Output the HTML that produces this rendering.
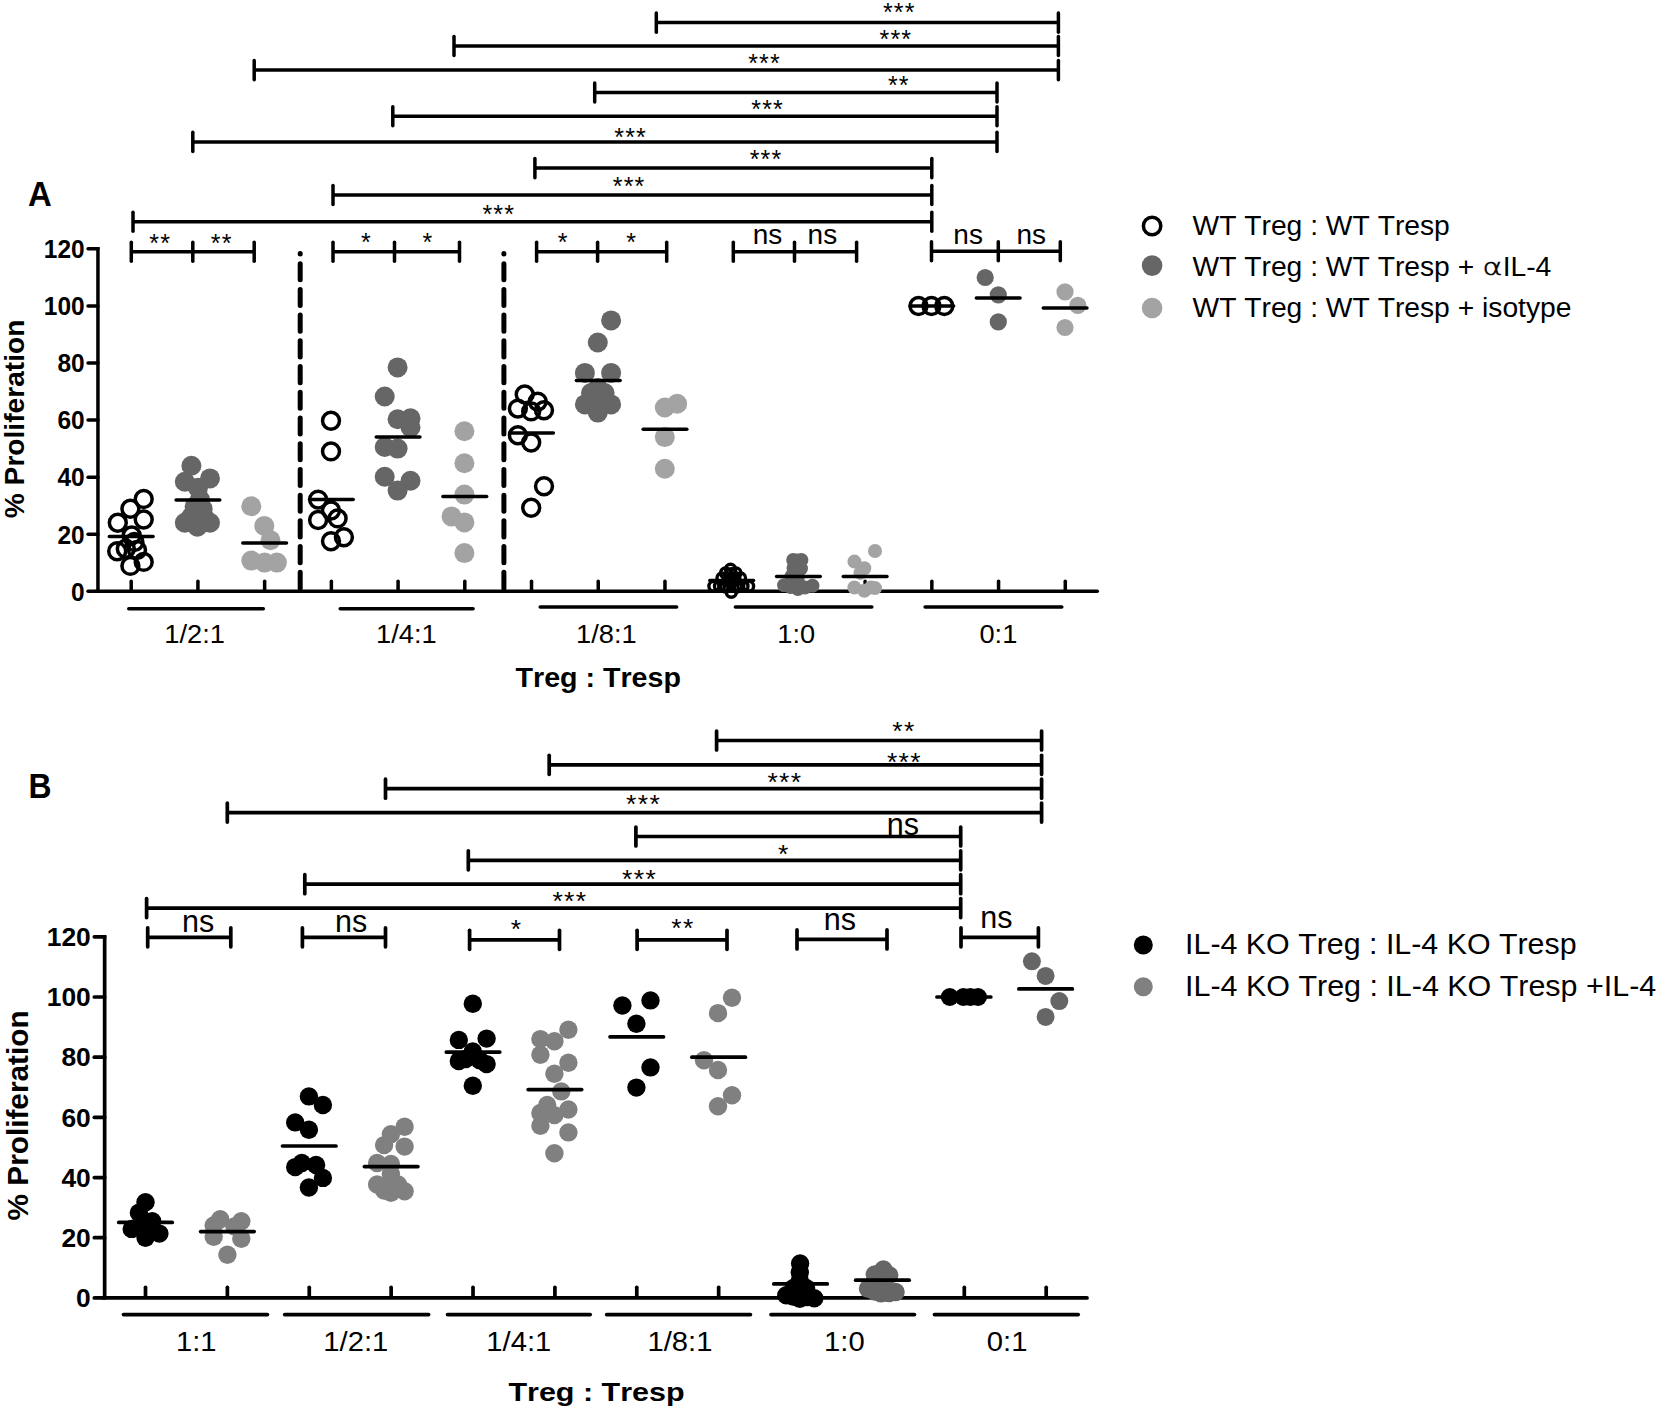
<!DOCTYPE html>
<html lang="en"><head><meta charset="utf-8"><title>Figure</title>
<style>
html,body{margin:0;padding:0;background:#fff}
body{width:1660px;height:1413px;overflow:hidden}
svg{display:block}
svg text{font-family:"Liberation Sans",sans-serif;font-kerning:none;fill:#000}
</style></head><body>
<svg width="1660" height="1413" viewBox="0 0 1660 1413">
<rect width="1660" height="1413" fill="#fff"/>
<line x1="97.95" y1="247.05" x2="97.95" y2="591.30" stroke="#000" stroke-width="3.5" stroke-linecap="butt"/>
<line x1="96.20" y1="591.30" x2="1097.30" y2="591.30" stroke="#000" stroke-width="3.5" stroke-linecap="round"/>
<line x1="88.05" y1="248.80" x2="97.95" y2="248.80" stroke="#000" stroke-width="3.5" stroke-linecap="round"/>
<line x1="88.05" y1="305.88" x2="97.95" y2="305.88" stroke="#000" stroke-width="3.5" stroke-linecap="round"/>
<line x1="88.05" y1="362.97" x2="97.95" y2="362.97" stroke="#000" stroke-width="3.5" stroke-linecap="round"/>
<line x1="88.05" y1="420.05" x2="97.95" y2="420.05" stroke="#000" stroke-width="3.5" stroke-linecap="round"/>
<line x1="88.05" y1="477.13" x2="97.95" y2="477.13" stroke="#000" stroke-width="3.5" stroke-linecap="round"/>
<line x1="88.05" y1="534.22" x2="97.95" y2="534.22" stroke="#000" stroke-width="3.5" stroke-linecap="round"/>
<line x1="88.05" y1="591.30" x2="97.95" y2="591.30" stroke="#000" stroke-width="3.5" stroke-linecap="round"/>
<line x1="131.20" y1="581.25" x2="131.20" y2="590.30" stroke="#000" stroke-width="3.5" stroke-linecap="round"/>
<line x1="197.92" y1="581.25" x2="197.92" y2="590.30" stroke="#000" stroke-width="3.5" stroke-linecap="round"/>
<line x1="264.64" y1="581.25" x2="264.64" y2="590.30" stroke="#000" stroke-width="3.5" stroke-linecap="round"/>
<line x1="331.36" y1="581.25" x2="331.36" y2="590.30" stroke="#000" stroke-width="3.5" stroke-linecap="round"/>
<line x1="398.08" y1="581.25" x2="398.08" y2="590.30" stroke="#000" stroke-width="3.5" stroke-linecap="round"/>
<line x1="464.80" y1="581.25" x2="464.80" y2="590.30" stroke="#000" stroke-width="3.5" stroke-linecap="round"/>
<line x1="531.52" y1="581.25" x2="531.52" y2="590.30" stroke="#000" stroke-width="3.5" stroke-linecap="round"/>
<line x1="598.24" y1="581.25" x2="598.24" y2="590.30" stroke="#000" stroke-width="3.5" stroke-linecap="round"/>
<line x1="664.96" y1="581.25" x2="664.96" y2="590.30" stroke="#000" stroke-width="3.5" stroke-linecap="round"/>
<line x1="731.68" y1="581.25" x2="731.68" y2="590.30" stroke="#000" stroke-width="3.5" stroke-linecap="round"/>
<line x1="798.40" y1="581.25" x2="798.40" y2="590.30" stroke="#000" stroke-width="3.5" stroke-linecap="round"/>
<line x1="865.12" y1="581.25" x2="865.12" y2="590.30" stroke="#000" stroke-width="3.5" stroke-linecap="round"/>
<line x1="931.84" y1="581.25" x2="931.84" y2="590.30" stroke="#000" stroke-width="3.5" stroke-linecap="round"/>
<line x1="998.56" y1="581.25" x2="998.56" y2="590.30" stroke="#000" stroke-width="3.5" stroke-linecap="round"/>
<line x1="1065.28" y1="581.25" x2="1065.28" y2="590.30" stroke="#000" stroke-width="3.5" stroke-linecap="round"/>
<line x1="128.75" y1="608.70" x2="263.30" y2="608.70" stroke="#000" stroke-width="3.5" stroke-linecap="round"/>
<line x1="340.20" y1="608.70" x2="473.10" y2="608.70" stroke="#000" stroke-width="3.5" stroke-linecap="round"/>
<line x1="540.20" y1="606.90" x2="676.60" y2="606.90" stroke="#000" stroke-width="3.5" stroke-linecap="round"/>
<line x1="735.40" y1="606.90" x2="871.80" y2="606.90" stroke="#000" stroke-width="3.5" stroke-linecap="round"/>
<line x1="925.10" y1="606.90" x2="1061.80" y2="606.90" stroke="#000" stroke-width="3.5" stroke-linecap="round"/>
<line x1="300.2" y1="588.4" x2="300.2" y2="253.4" stroke="#000" stroke-width="5" stroke-linecap="round" stroke-dasharray="16.1 9.62"/>
<line x1="503.9" y1="588.4" x2="503.9" y2="253.4" stroke="#000" stroke-width="5" stroke-linecap="round" stroke-dasharray="16.1 9.62"/>
<line x1="656.30" y1="22.60" x2="1058.40" y2="22.60" stroke="#000" stroke-width="3.5" stroke-linecap="butt"/>
<line x1="656.30" y1="13.05" x2="656.30" y2="32.15" stroke="#000" stroke-width="3.5" stroke-linecap="round"/>
<line x1="1058.40" y1="13.05" x2="1058.40" y2="32.15" stroke="#000" stroke-width="3.5" stroke-linecap="round"/>
<line x1="454.00" y1="46.00" x2="1058.40" y2="46.00" stroke="#000" stroke-width="3.5" stroke-linecap="butt"/>
<line x1="454.00" y1="36.45" x2="454.00" y2="55.55" stroke="#000" stroke-width="3.5" stroke-linecap="round"/>
<line x1="1058.40" y1="36.45" x2="1058.40" y2="55.55" stroke="#000" stroke-width="3.5" stroke-linecap="round"/>
<line x1="254.20" y1="70.10" x2="1058.40" y2="70.10" stroke="#000" stroke-width="3.5" stroke-linecap="butt"/>
<line x1="254.20" y1="60.55" x2="254.20" y2="79.65" stroke="#000" stroke-width="3.5" stroke-linecap="round"/>
<line x1="1058.40" y1="60.55" x2="1058.40" y2="79.65" stroke="#000" stroke-width="3.5" stroke-linecap="round"/>
<line x1="594.70" y1="92.50" x2="997.00" y2="92.50" stroke="#000" stroke-width="3.5" stroke-linecap="butt"/>
<line x1="594.70" y1="82.95" x2="594.70" y2="102.05" stroke="#000" stroke-width="3.5" stroke-linecap="round"/>
<line x1="997.00" y1="82.95" x2="997.00" y2="102.05" stroke="#000" stroke-width="3.5" stroke-linecap="round"/>
<line x1="392.80" y1="116.30" x2="997.00" y2="116.30" stroke="#000" stroke-width="3.5" stroke-linecap="butt"/>
<line x1="392.80" y1="106.75" x2="392.80" y2="125.85" stroke="#000" stroke-width="3.5" stroke-linecap="round"/>
<line x1="997.00" y1="106.75" x2="997.00" y2="125.85" stroke="#000" stroke-width="3.5" stroke-linecap="round"/>
<line x1="192.80" y1="141.90" x2="997.00" y2="141.90" stroke="#000" stroke-width="3.5" stroke-linecap="butt"/>
<line x1="192.80" y1="132.35" x2="192.80" y2="151.45" stroke="#000" stroke-width="3.5" stroke-linecap="round"/>
<line x1="997.00" y1="132.35" x2="997.00" y2="151.45" stroke="#000" stroke-width="3.5" stroke-linecap="round"/>
<line x1="534.90" y1="168.10" x2="931.80" y2="168.10" stroke="#000" stroke-width="3.5" stroke-linecap="butt"/>
<line x1="534.90" y1="158.55" x2="534.90" y2="177.65" stroke="#000" stroke-width="3.5" stroke-linecap="round"/>
<line x1="931.80" y1="158.55" x2="931.80" y2="177.65" stroke="#000" stroke-width="3.5" stroke-linecap="round"/>
<line x1="333.00" y1="195.00" x2="931.80" y2="195.00" stroke="#000" stroke-width="3.5" stroke-linecap="butt"/>
<line x1="333.00" y1="185.45" x2="333.00" y2="204.55" stroke="#000" stroke-width="3.5" stroke-linecap="round"/>
<line x1="931.80" y1="185.45" x2="931.80" y2="204.55" stroke="#000" stroke-width="3.5" stroke-linecap="round"/>
<line x1="133.00" y1="221.80" x2="931.80" y2="221.80" stroke="#000" stroke-width="3.5" stroke-linecap="butt"/>
<line x1="133.00" y1="212.25" x2="133.00" y2="231.35" stroke="#000" stroke-width="3.5" stroke-linecap="round"/>
<line x1="931.80" y1="212.25" x2="931.80" y2="231.35" stroke="#000" stroke-width="3.5" stroke-linecap="round"/>
<line x1="131.30" y1="251.80" x2="254.20" y2="251.80" stroke="#000" stroke-width="3.5" stroke-linecap="butt"/>
<line x1="131.30" y1="242.25" x2="131.30" y2="261.35" stroke="#000" stroke-width="3.5" stroke-linecap="round"/>
<line x1="192.80" y1="242.25" x2="192.80" y2="261.35" stroke="#000" stroke-width="3.5" stroke-linecap="round"/>
<line x1="254.20" y1="242.25" x2="254.20" y2="261.35" stroke="#000" stroke-width="3.5" stroke-linecap="round"/>
<line x1="333.00" y1="251.80" x2="459.50" y2="251.80" stroke="#000" stroke-width="3.5" stroke-linecap="butt"/>
<line x1="333.00" y1="242.25" x2="333.00" y2="261.35" stroke="#000" stroke-width="3.5" stroke-linecap="round"/>
<line x1="394.50" y1="242.25" x2="394.50" y2="261.35" stroke="#000" stroke-width="3.5" stroke-linecap="round"/>
<line x1="459.50" y1="242.25" x2="459.50" y2="261.35" stroke="#000" stroke-width="3.5" stroke-linecap="round"/>
<line x1="536.60" y1="251.80" x2="666.70" y2="251.80" stroke="#000" stroke-width="3.5" stroke-linecap="butt"/>
<line x1="536.60" y1="242.25" x2="536.60" y2="261.35" stroke="#000" stroke-width="3.5" stroke-linecap="round"/>
<line x1="597.60" y1="242.25" x2="597.60" y2="261.35" stroke="#000" stroke-width="3.5" stroke-linecap="round"/>
<line x1="666.70" y1="242.25" x2="666.70" y2="261.35" stroke="#000" stroke-width="3.5" stroke-linecap="round"/>
<line x1="733.30" y1="251.80" x2="856.60" y2="251.80" stroke="#000" stroke-width="3.5" stroke-linecap="butt"/>
<line x1="733.30" y1="242.25" x2="733.30" y2="261.35" stroke="#000" stroke-width="3.5" stroke-linecap="round"/>
<line x1="794.50" y1="242.25" x2="794.50" y2="261.35" stroke="#000" stroke-width="3.5" stroke-linecap="round"/>
<line x1="856.60" y1="242.25" x2="856.60" y2="261.35" stroke="#000" stroke-width="3.5" stroke-linecap="round"/>
<line x1="931.50" y1="251.20" x2="1060.30" y2="251.20" stroke="#000" stroke-width="3.5" stroke-linecap="butt"/>
<line x1="931.50" y1="241.65" x2="931.50" y2="260.75" stroke="#000" stroke-width="3.5" stroke-linecap="round"/>
<line x1="998.30" y1="241.65" x2="998.30" y2="260.75" stroke="#000" stroke-width="3.5" stroke-linecap="round"/>
<line x1="1060.30" y1="241.65" x2="1060.30" y2="260.75" stroke="#000" stroke-width="3.5" stroke-linecap="round"/>
<circle cx="143.7" cy="499.0" r="8.45" fill="none" stroke="#000" stroke-width="3.5"/>
<circle cx="130.4" cy="508.7" r="8.45" fill="none" stroke="#000" stroke-width="3.5"/>
<circle cx="143.7" cy="519.5" r="8.45" fill="none" stroke="#000" stroke-width="3.5"/>
<circle cx="117.8" cy="522.8" r="8.45" fill="none" stroke="#000" stroke-width="3.5"/>
<circle cx="131.7" cy="535.4" r="8.45" fill="none" stroke="#000" stroke-width="3.5"/>
<circle cx="134.4" cy="542.0" r="8.45" fill="none" stroke="#000" stroke-width="3.5"/>
<circle cx="137.0" cy="550.0" r="8.45" fill="none" stroke="#000" stroke-width="3.5"/>
<circle cx="117.2" cy="551.3" r="8.45" fill="none" stroke="#000" stroke-width="3.5"/>
<circle cx="125.8" cy="548.7" r="8.45" fill="none" stroke="#000" stroke-width="3.5"/>
<circle cx="143.7" cy="561.9" r="8.45" fill="none" stroke="#000" stroke-width="3.5"/>
<circle cx="130.4" cy="565.9" r="8.45" fill="none" stroke="#000" stroke-width="3.5"/>
<line x1="109.35" y1="536.40" x2="153.05" y2="536.40" stroke="#000" stroke-width="3.5" stroke-linecap="round"/>
<circle cx="191.4" cy="465.8" r="10" fill="#666666"/>
<circle cx="210.0" cy="478.4" r="10" fill="#666666"/>
<circle cx="184.8" cy="481.7" r="10" fill="#666666"/>
<circle cx="198.0" cy="487.7" r="10" fill="#666666"/>
<circle cx="200.0" cy="499.6" r="10" fill="#666666"/>
<circle cx="194.7" cy="506.3" r="10" fill="#666666"/>
<circle cx="202.7" cy="508.9" r="10" fill="#666666"/>
<circle cx="184.8" cy="522.8" r="10" fill="#666666"/>
<circle cx="210.0" cy="522.8" r="10" fill="#666666"/>
<circle cx="197.4" cy="526.8" r="10" fill="#666666"/>
<circle cx="191.0" cy="517.0" r="10" fill="#666666"/>
<circle cx="204.0" cy="517.0" r="10" fill="#666666"/>
<line x1="176.07" y1="499.90" x2="219.77" y2="499.90" stroke="#000" stroke-width="3.5" stroke-linecap="round"/>
<circle cx="251.3" cy="506.3" r="10" fill="#a3a3a3"/>
<circle cx="264.3" cy="525.9" r="10" fill="#a3a3a3"/>
<circle cx="270.5" cy="540.3" r="10" fill="#a3a3a3"/>
<circle cx="251.3" cy="560.6" r="10" fill="#a3a3a3"/>
<circle cx="264.6" cy="562.6" r="10" fill="#a3a3a3"/>
<circle cx="276.9" cy="562.6" r="10" fill="#a3a3a3"/>
<line x1="242.79" y1="543.10" x2="286.49" y2="543.10" stroke="#000" stroke-width="3.5" stroke-linecap="round"/>
<circle cx="331.0" cy="420.7" r="8.45" fill="none" stroke="#000" stroke-width="3.5"/>
<circle cx="331.0" cy="451.4" r="8.45" fill="none" stroke="#000" stroke-width="3.5"/>
<circle cx="318.1" cy="499.6" r="8.45" fill="none" stroke="#000" stroke-width="3.5"/>
<circle cx="331.0" cy="510.5" r="8.45" fill="none" stroke="#000" stroke-width="3.5"/>
<circle cx="337.6" cy="518.4" r="8.45" fill="none" stroke="#000" stroke-width="3.5"/>
<circle cx="318.1" cy="520.0" r="8.45" fill="none" stroke="#000" stroke-width="3.5"/>
<circle cx="343.9" cy="537.2" r="8.45" fill="none" stroke="#000" stroke-width="3.5"/>
<circle cx="331.0" cy="541.2" r="8.45" fill="none" stroke="#000" stroke-width="3.5"/>
<line x1="309.51" y1="499.60" x2="353.21" y2="499.60" stroke="#000" stroke-width="3.5" stroke-linecap="round"/>
<circle cx="397.6" cy="367.4" r="10" fill="#666666"/>
<circle cx="384.7" cy="396.5" r="10" fill="#666666"/>
<circle cx="397.6" cy="419.3" r="10" fill="#666666"/>
<circle cx="410.5" cy="418.3" r="10" fill="#666666"/>
<circle cx="410.5" cy="427.2" r="10" fill="#666666"/>
<circle cx="384.7" cy="447.0" r="10" fill="#666666"/>
<circle cx="397.6" cy="448.6" r="10" fill="#666666"/>
<circle cx="384.7" cy="476.8" r="10" fill="#666666"/>
<circle cx="410.5" cy="480.7" r="10" fill="#666666"/>
<circle cx="397.6" cy="490.6" r="10" fill="#666666"/>
<line x1="376.23" y1="437.10" x2="419.93" y2="437.10" stroke="#000" stroke-width="3.5" stroke-linecap="round"/>
<circle cx="464.4" cy="431.2" r="10" fill="#a3a3a3"/>
<circle cx="464.4" cy="463.3" r="10" fill="#a3a3a3"/>
<circle cx="464.4" cy="494.6" r="10" fill="#a3a3a3"/>
<circle cx="451.5" cy="516.4" r="10" fill="#a3a3a3"/>
<circle cx="464.4" cy="522.4" r="10" fill="#a3a3a3"/>
<circle cx="464.4" cy="553.1" r="10" fill="#a3a3a3"/>
<line x1="442.95" y1="496.60" x2="486.65" y2="496.60" stroke="#000" stroke-width="3.5" stroke-linecap="round"/>
<circle cx="524.7" cy="394.4" r="8.45" fill="none" stroke="#000" stroke-width="3.5"/>
<circle cx="537.7" cy="401.6" r="8.45" fill="none" stroke="#000" stroke-width="3.5"/>
<circle cx="517.9" cy="408.6" r="8.45" fill="none" stroke="#000" stroke-width="3.5"/>
<circle cx="531.2" cy="411.4" r="8.45" fill="none" stroke="#000" stroke-width="3.5"/>
<circle cx="544.0" cy="410.3" r="8.45" fill="none" stroke="#000" stroke-width="3.5"/>
<circle cx="517.9" cy="435.3" r="8.45" fill="none" stroke="#000" stroke-width="3.5"/>
<circle cx="531.2" cy="442.5" r="8.45" fill="none" stroke="#000" stroke-width="3.5"/>
<circle cx="544.0" cy="486.2" r="8.45" fill="none" stroke="#000" stroke-width="3.5"/>
<circle cx="531.2" cy="507.7" r="8.45" fill="none" stroke="#000" stroke-width="3.5"/>
<line x1="509.67" y1="432.90" x2="553.37" y2="432.90" stroke="#000" stroke-width="3.5" stroke-linecap="round"/>
<circle cx="611.1" cy="320.4" r="10" fill="#666666"/>
<circle cx="597.8" cy="342.5" r="10" fill="#666666"/>
<circle cx="584.9" cy="372.9" r="10" fill="#666666"/>
<circle cx="611.1" cy="372.9" r="10" fill="#666666"/>
<circle cx="597.8" cy="388.1" r="10" fill="#666666"/>
<circle cx="591.0" cy="393.0" r="10" fill="#666666"/>
<circle cx="604.6" cy="393.0" r="10" fill="#666666"/>
<circle cx="597.8" cy="400.0" r="10" fill="#666666"/>
<circle cx="584.9" cy="404.4" r="10" fill="#666666"/>
<circle cx="611.1" cy="404.4" r="10" fill="#666666"/>
<circle cx="597.8" cy="412.6" r="10" fill="#666666"/>
<line x1="576.39" y1="380.60" x2="620.09" y2="380.60" stroke="#000" stroke-width="3.5" stroke-linecap="round"/>
<circle cx="677.2" cy="403.7" r="10" fill="#a3a3a3"/>
<circle cx="664.8" cy="407.5" r="10" fill="#a3a3a3"/>
<circle cx="664.8" cy="437.1" r="10" fill="#a3a3a3"/>
<circle cx="664.8" cy="468.7" r="10" fill="#a3a3a3"/>
<line x1="643.11" y1="429.20" x2="686.81" y2="429.20" stroke="#000" stroke-width="3.5" stroke-linecap="round"/>
<circle cx="713.9" cy="586.3" r="5.0" fill="none" stroke="#000" stroke-width="3.4"/>
<circle cx="719.5" cy="586.3" r="5.0" fill="none" stroke="#000" stroke-width="3.4"/>
<circle cx="725.8" cy="587.0" r="5.0" fill="none" stroke="#000" stroke-width="3.4"/>
<circle cx="731.3" cy="592.3" r="5.0" fill="none" stroke="#000" stroke-width="3.4"/>
<circle cx="736.8" cy="587.0" r="5.0" fill="none" stroke="#000" stroke-width="3.4"/>
<circle cx="743.0" cy="586.3" r="5.0" fill="none" stroke="#000" stroke-width="3.4"/>
<circle cx="748.6" cy="586.3" r="5.0" fill="none" stroke="#000" stroke-width="3.4"/>
<circle cx="730.5" cy="569.3" r="5.0" fill="none" stroke="#000" stroke-width="3.4"/>
<circle cx="725.5" cy="573.0" r="5.0" fill="none" stroke="#000" stroke-width="3.4"/>
<circle cx="736.0" cy="573.0" r="5.0" fill="none" stroke="#000" stroke-width="3.4"/>
<circle cx="731.3" cy="573.6" r="5.0" fill="none" stroke="#000" stroke-width="3.4"/>
<circle cx="722.0" cy="578.0" r="5.0" fill="none" stroke="#000" stroke-width="3.4"/>
<circle cx="740.5" cy="578.0" r="5.0" fill="none" stroke="#000" stroke-width="3.4"/>
<circle cx="728.0" cy="579.0" r="5.0" fill="none" stroke="#000" stroke-width="3.4"/>
<circle cx="735.0" cy="579.0" r="5.0" fill="none" stroke="#000" stroke-width="3.4"/>
<circle cx="731.3" cy="583.0" r="5.0" fill="none" stroke="#000" stroke-width="3.4"/>
<line x1="709.83" y1="580.50" x2="753.53" y2="580.50" stroke="#000" stroke-width="3.5" stroke-linecap="round"/>
<circle cx="793.2" cy="559.9" r="7" fill="#666666"/>
<circle cx="801.4" cy="559.9" r="7" fill="#666666"/>
<circle cx="797.3" cy="560.6" r="7" fill="#666666"/>
<circle cx="801.0" cy="568.5" r="7" fill="#666666"/>
<circle cx="793.5" cy="568.0" r="7" fill="#666666"/>
<circle cx="791.6" cy="576.3" r="7" fill="#666666"/>
<circle cx="797.0" cy="572.0" r="7" fill="#666666"/>
<circle cx="784.1" cy="585.3" r="7" fill="#666666"/>
<circle cx="790.5" cy="587.0" r="7" fill="#666666"/>
<circle cx="797.9" cy="589.0" r="7" fill="#666666"/>
<circle cx="805.0" cy="587.6" r="7" fill="#666666"/>
<circle cx="812.5" cy="585.8" r="7" fill="#666666"/>
<circle cx="797.7" cy="580.0" r="7" fill="#666666"/>
<line x1="776.55" y1="576.50" x2="820.25" y2="576.50" stroke="#000" stroke-width="3.5" stroke-linecap="round"/>
<circle cx="875.0" cy="551.0" r="7" fill="#a3a3a3"/>
<circle cx="854.4" cy="561.6" r="7" fill="#a3a3a3"/>
<circle cx="864.3" cy="568.3" r="7" fill="#a3a3a3"/>
<circle cx="860.4" cy="572.9" r="7" fill="#a3a3a3"/>
<circle cx="854.4" cy="587.5" r="7" fill="#a3a3a3"/>
<circle cx="864.3" cy="590.8" r="7" fill="#a3a3a3"/>
<circle cx="871.0" cy="587.5" r="7" fill="#a3a3a3"/>
<circle cx="875.0" cy="588.1" r="7" fill="#a3a3a3"/>
<line x1="843.27" y1="576.50" x2="886.97" y2="576.50" stroke="#000" stroke-width="3.5" stroke-linecap="round"/>
<circle cx="918.5" cy="306.0" r="8.45" fill="none" stroke="#000" stroke-width="3.5"/>
<circle cx="931.5" cy="306.0" r="8.45" fill="none" stroke="#000" stroke-width="3.5"/>
<circle cx="944.3" cy="306.0" r="8.45" fill="none" stroke="#000" stroke-width="3.5"/>
<line x1="909.95" y1="306.00" x2="953.65" y2="306.00" stroke="#000" stroke-width="3.5" stroke-linecap="round"/>
<circle cx="985.2" cy="277.5" r="8.6" fill="#666666"/>
<circle cx="998.3" cy="294.8" r="8.6" fill="#666666"/>
<circle cx="998.3" cy="321.9" r="8.6" fill="#666666"/>
<line x1="976.35" y1="298.10" x2="1020.05" y2="298.10" stroke="#000" stroke-width="3.5" stroke-linecap="round"/>
<circle cx="1065.0" cy="291.8" r="8.6" fill="#a3a3a3"/>
<circle cx="1077.8" cy="305.4" r="8.6" fill="#a3a3a3"/>
<circle cx="1065.0" cy="327.5" r="8.6" fill="#a3a3a3"/>
<line x1="1043.25" y1="308.00" x2="1086.95" y2="308.00" stroke="#000" stroke-width="3.5" stroke-linecap="round"/>
<circle cx="1152.1" cy="226.0" r="8.7" fill="none" stroke="#000" stroke-width="3.5"/>
<circle cx="1152.1" cy="265.6" r="10.3" fill="#666666"/>
<circle cx="1152.1" cy="308.0" r="10.3" fill="#a3a3a3"/>
<line x1="104.65" y1="934.95" x2="104.65" y2="1297.90" stroke="#000" stroke-width="3.7" stroke-linecap="butt"/>
<line x1="102.80" y1="1297.90" x2="1087.00" y2="1297.90" stroke="#000" stroke-width="3.7" stroke-linecap="round"/>
<line x1="94.30" y1="936.80" x2="104.65" y2="936.80" stroke="#000" stroke-width="3.7" stroke-linecap="round"/>
<line x1="94.30" y1="996.98" x2="104.65" y2="996.98" stroke="#000" stroke-width="3.7" stroke-linecap="round"/>
<line x1="94.30" y1="1057.17" x2="104.65" y2="1057.17" stroke="#000" stroke-width="3.7" stroke-linecap="round"/>
<line x1="94.30" y1="1117.35" x2="104.65" y2="1117.35" stroke="#000" stroke-width="3.7" stroke-linecap="round"/>
<line x1="94.30" y1="1177.53" x2="104.65" y2="1177.53" stroke="#000" stroke-width="3.7" stroke-linecap="round"/>
<line x1="94.30" y1="1237.72" x2="104.65" y2="1237.72" stroke="#000" stroke-width="3.7" stroke-linecap="round"/>
<line x1="94.30" y1="1297.90" x2="104.65" y2="1297.90" stroke="#000" stroke-width="3.7" stroke-linecap="round"/>
<line x1="145.50" y1="1287.30" x2="145.50" y2="1296.90" stroke="#000" stroke-width="3.7" stroke-linecap="round"/>
<line x1="227.38" y1="1287.30" x2="227.38" y2="1296.90" stroke="#000" stroke-width="3.7" stroke-linecap="round"/>
<line x1="309.26" y1="1287.30" x2="309.26" y2="1296.90" stroke="#000" stroke-width="3.7" stroke-linecap="round"/>
<line x1="391.14" y1="1287.30" x2="391.14" y2="1296.90" stroke="#000" stroke-width="3.7" stroke-linecap="round"/>
<line x1="473.02" y1="1287.30" x2="473.02" y2="1296.90" stroke="#000" stroke-width="3.7" stroke-linecap="round"/>
<line x1="554.90" y1="1287.30" x2="554.90" y2="1296.90" stroke="#000" stroke-width="3.7" stroke-linecap="round"/>
<line x1="636.78" y1="1287.30" x2="636.78" y2="1296.90" stroke="#000" stroke-width="3.7" stroke-linecap="round"/>
<line x1="718.66" y1="1287.30" x2="718.66" y2="1296.90" stroke="#000" stroke-width="3.7" stroke-linecap="round"/>
<line x1="800.54" y1="1287.30" x2="800.54" y2="1296.90" stroke="#000" stroke-width="3.7" stroke-linecap="round"/>
<line x1="882.42" y1="1287.30" x2="882.42" y2="1296.90" stroke="#000" stroke-width="3.7" stroke-linecap="round"/>
<line x1="964.30" y1="1287.30" x2="964.30" y2="1296.90" stroke="#000" stroke-width="3.7" stroke-linecap="round"/>
<line x1="1046.18" y1="1287.30" x2="1046.18" y2="1296.90" stroke="#000" stroke-width="3.7" stroke-linecap="round"/>
<line x1="123.50" y1="1314.60" x2="267.40" y2="1314.60" stroke="#000" stroke-width="3.7" stroke-linecap="round"/>
<line x1="284.70" y1="1314.60" x2="428.60" y2="1314.60" stroke="#000" stroke-width="3.7" stroke-linecap="round"/>
<line x1="447.60" y1="1314.60" x2="590.20" y2="1314.60" stroke="#000" stroke-width="3.7" stroke-linecap="round"/>
<line x1="606.70" y1="1314.60" x2="750.40" y2="1314.60" stroke="#000" stroke-width="3.7" stroke-linecap="round"/>
<line x1="771.00" y1="1314.60" x2="914.40" y2="1314.60" stroke="#000" stroke-width="3.7" stroke-linecap="round"/>
<line x1="934.50" y1="1314.60" x2="1078.20" y2="1314.60" stroke="#000" stroke-width="3.7" stroke-linecap="round"/>
<line x1="716.60" y1="740.50" x2="1041.60" y2="740.50" stroke="#000" stroke-width="3.7" stroke-linecap="butt"/>
<line x1="716.60" y1="731.00" x2="716.60" y2="750.00" stroke="#000" stroke-width="3.7" stroke-linecap="round"/>
<line x1="1041.60" y1="731.00" x2="1041.60" y2="750.00" stroke="#000" stroke-width="3.7" stroke-linecap="round"/>
<line x1="549.20" y1="764.80" x2="1041.60" y2="764.80" stroke="#000" stroke-width="3.7" stroke-linecap="butt"/>
<line x1="549.20" y1="755.30" x2="549.20" y2="774.30" stroke="#000" stroke-width="3.7" stroke-linecap="round"/>
<line x1="1041.60" y1="755.30" x2="1041.60" y2="774.30" stroke="#000" stroke-width="3.7" stroke-linecap="round"/>
<line x1="385.50" y1="788.70" x2="1041.60" y2="788.70" stroke="#000" stroke-width="3.7" stroke-linecap="butt"/>
<line x1="385.50" y1="779.20" x2="385.50" y2="798.20" stroke="#000" stroke-width="3.7" stroke-linecap="round"/>
<line x1="1041.60" y1="779.20" x2="1041.60" y2="798.20" stroke="#000" stroke-width="3.7" stroke-linecap="round"/>
<line x1="227.30" y1="812.60" x2="1041.60" y2="812.60" stroke="#000" stroke-width="3.7" stroke-linecap="butt"/>
<line x1="227.30" y1="803.10" x2="227.30" y2="822.10" stroke="#000" stroke-width="3.7" stroke-linecap="round"/>
<line x1="1041.60" y1="803.10" x2="1041.60" y2="822.10" stroke="#000" stroke-width="3.7" stroke-linecap="round"/>
<line x1="635.90" y1="836.50" x2="960.70" y2="836.50" stroke="#000" stroke-width="3.7" stroke-linecap="butt"/>
<line x1="635.90" y1="827.00" x2="635.90" y2="846.00" stroke="#000" stroke-width="3.7" stroke-linecap="round"/>
<line x1="960.70" y1="827.00" x2="960.70" y2="846.00" stroke="#000" stroke-width="3.7" stroke-linecap="round"/>
<line x1="468.30" y1="860.30" x2="960.70" y2="860.30" stroke="#000" stroke-width="3.7" stroke-linecap="butt"/>
<line x1="468.30" y1="850.80" x2="468.30" y2="869.80" stroke="#000" stroke-width="3.7" stroke-linecap="round"/>
<line x1="960.70" y1="850.80" x2="960.70" y2="869.80" stroke="#000" stroke-width="3.7" stroke-linecap="round"/>
<line x1="304.80" y1="884.20" x2="960.70" y2="884.20" stroke="#000" stroke-width="3.7" stroke-linecap="butt"/>
<line x1="304.80" y1="874.70" x2="304.80" y2="893.70" stroke="#000" stroke-width="3.7" stroke-linecap="round"/>
<line x1="960.70" y1="874.70" x2="960.70" y2="893.70" stroke="#000" stroke-width="3.7" stroke-linecap="round"/>
<line x1="146.60" y1="908.10" x2="960.70" y2="908.10" stroke="#000" stroke-width="3.7" stroke-linecap="butt"/>
<line x1="146.60" y1="898.60" x2="146.60" y2="917.60" stroke="#000" stroke-width="3.7" stroke-linecap="round"/>
<line x1="960.70" y1="898.60" x2="960.70" y2="917.60" stroke="#000" stroke-width="3.7" stroke-linecap="round"/>
<line x1="147.70" y1="937.30" x2="230.80" y2="937.30" stroke="#000" stroke-width="3.7" stroke-linecap="butt"/>
<line x1="147.70" y1="927.80" x2="147.70" y2="946.80" stroke="#000" stroke-width="3.7" stroke-linecap="round"/>
<line x1="230.80" y1="927.80" x2="230.80" y2="946.80" stroke="#000" stroke-width="3.7" stroke-linecap="round"/>
<line x1="302.40" y1="937.30" x2="385.50" y2="937.30" stroke="#000" stroke-width="3.7" stroke-linecap="butt"/>
<line x1="302.40" y1="927.80" x2="302.40" y2="946.80" stroke="#000" stroke-width="3.7" stroke-linecap="round"/>
<line x1="385.50" y1="927.80" x2="385.50" y2="946.80" stroke="#000" stroke-width="3.7" stroke-linecap="round"/>
<line x1="469.60" y1="939.80" x2="559.50" y2="939.80" stroke="#000" stroke-width="3.7" stroke-linecap="butt"/>
<line x1="469.60" y1="930.30" x2="469.60" y2="949.30" stroke="#000" stroke-width="3.7" stroke-linecap="round"/>
<line x1="559.50" y1="930.30" x2="559.50" y2="949.30" stroke="#000" stroke-width="3.7" stroke-linecap="round"/>
<line x1="637.10" y1="939.80" x2="727.00" y2="939.80" stroke="#000" stroke-width="3.7" stroke-linecap="butt"/>
<line x1="637.10" y1="930.30" x2="637.10" y2="949.30" stroke="#000" stroke-width="3.7" stroke-linecap="round"/>
<line x1="727.00" y1="930.30" x2="727.00" y2="949.30" stroke="#000" stroke-width="3.7" stroke-linecap="round"/>
<line x1="797.00" y1="939.40" x2="887.00" y2="939.40" stroke="#000" stroke-width="3.7" stroke-linecap="butt"/>
<line x1="797.00" y1="929.90" x2="797.00" y2="948.90" stroke="#000" stroke-width="3.7" stroke-linecap="round"/>
<line x1="887.00" y1="929.90" x2="887.00" y2="948.90" stroke="#000" stroke-width="3.7" stroke-linecap="round"/>
<line x1="961.00" y1="937.30" x2="1038.40" y2="937.30" stroke="#000" stroke-width="3.7" stroke-linecap="butt"/>
<line x1="961.00" y1="927.80" x2="961.00" y2="946.80" stroke="#000" stroke-width="3.7" stroke-linecap="round"/>
<line x1="1038.40" y1="927.80" x2="1038.40" y2="946.80" stroke="#000" stroke-width="3.7" stroke-linecap="round"/>
<circle cx="145.5" cy="1202.3" r="9.2" fill="#000"/>
<circle cx="138.9" cy="1212.7" r="9.2" fill="#000"/>
<circle cx="152.2" cy="1221.3" r="9.2" fill="#000"/>
<circle cx="131.7" cy="1228.9" r="9.2" fill="#000"/>
<circle cx="159.4" cy="1233.6" r="9.2" fill="#000"/>
<circle cx="145.5" cy="1237.7" r="9.2" fill="#000"/>
<circle cx="145.5" cy="1225.0" r="9.2" fill="#000"/>
<line x1="118.75" y1="1222.40" x2="172.25" y2="1222.40" stroke="#000" stroke-width="3.7" stroke-linecap="round"/>
<circle cx="220.2" cy="1219.3" r="9.2" fill="#808080"/>
<circle cx="213.7" cy="1225.4" r="9.2" fill="#808080"/>
<circle cx="241.3" cy="1221.3" r="9.2" fill="#808080"/>
<circle cx="234.5" cy="1226.5" r="9.2" fill="#808080"/>
<circle cx="213.7" cy="1236.7" r="9.2" fill="#808080"/>
<circle cx="241.3" cy="1238.7" r="9.2" fill="#808080"/>
<circle cx="227.4" cy="1254.7" r="9.2" fill="#808080"/>
<line x1="200.63" y1="1231.60" x2="254.13" y2="1231.60" stroke="#000" stroke-width="3.7" stroke-linecap="round"/>
<circle cx="308.9" cy="1096.4" r="9.2" fill="#000"/>
<circle cx="322.9" cy="1105.0" r="9.2" fill="#000"/>
<circle cx="295.2" cy="1122.4" r="9.2" fill="#000"/>
<circle cx="308.9" cy="1129.8" r="9.2" fill="#000"/>
<circle cx="301.8" cy="1163.0" r="9.2" fill="#000"/>
<circle cx="316.1" cy="1165.0" r="9.2" fill="#000"/>
<circle cx="295.2" cy="1167.1" r="9.2" fill="#000"/>
<circle cx="322.9" cy="1177.9" r="9.2" fill="#000"/>
<circle cx="308.9" cy="1187.5" r="9.2" fill="#000"/>
<line x1="282.51" y1="1146.00" x2="336.01" y2="1146.00" stroke="#000" stroke-width="3.7" stroke-linecap="round"/>
<circle cx="404.6" cy="1126.7" r="9.2" fill="#808080"/>
<circle cx="390.9" cy="1134.3" r="9.2" fill="#808080"/>
<circle cx="384.1" cy="1145.1" r="9.2" fill="#808080"/>
<circle cx="404.6" cy="1146.6" r="9.2" fill="#808080"/>
<circle cx="377.1" cy="1163.0" r="9.2" fill="#808080"/>
<circle cx="390.9" cy="1164.0" r="9.2" fill="#808080"/>
<circle cx="390.9" cy="1174.2" r="9.2" fill="#808080"/>
<circle cx="377.1" cy="1184.5" r="9.2" fill="#808080"/>
<circle cx="390.9" cy="1183.0" r="9.2" fill="#808080"/>
<circle cx="398.0" cy="1184.5" r="9.2" fill="#808080"/>
<circle cx="404.6" cy="1191.2" r="9.2" fill="#808080"/>
<circle cx="390.9" cy="1192.7" r="9.2" fill="#808080"/>
<circle cx="384.1" cy="1190.6" r="9.2" fill="#808080"/>
<line x1="364.39" y1="1166.60" x2="417.89" y2="1166.60" stroke="#000" stroke-width="3.7" stroke-linecap="round"/>
<circle cx="472.8" cy="1003.7" r="9.2" fill="#000"/>
<circle cx="458.8" cy="1039.9" r="9.2" fill="#000"/>
<circle cx="486.6" cy="1038.6" r="9.2" fill="#000"/>
<circle cx="472.8" cy="1051.4" r="9.2" fill="#000"/>
<circle cx="458.8" cy="1061.0" r="9.2" fill="#000"/>
<circle cx="465.7" cy="1059.0" r="9.2" fill="#000"/>
<circle cx="479.7" cy="1060.3" r="9.2" fill="#000"/>
<circle cx="486.6" cy="1064.1" r="9.2" fill="#000"/>
<circle cx="472.8" cy="1085.8" r="9.2" fill="#000"/>
<line x1="446.27" y1="1052.10" x2="499.77" y2="1052.10" stroke="#000" stroke-width="3.7" stroke-linecap="round"/>
<circle cx="568.4" cy="1029.7" r="9.2" fill="#808080"/>
<circle cx="540.4" cy="1039.1" r="9.2" fill="#808080"/>
<circle cx="554.4" cy="1041.2" r="9.2" fill="#808080"/>
<circle cx="540.4" cy="1054.7" r="9.2" fill="#808080"/>
<circle cx="568.4" cy="1062.8" r="9.2" fill="#808080"/>
<circle cx="554.4" cy="1073.8" r="9.2" fill="#808080"/>
<circle cx="561.3" cy="1091.4" r="9.2" fill="#808080"/>
<circle cx="547.2" cy="1104.9" r="9.2" fill="#808080"/>
<circle cx="568.4" cy="1109.5" r="9.2" fill="#808080"/>
<circle cx="540.4" cy="1113.0" r="9.2" fill="#808080"/>
<circle cx="554.4" cy="1115.1" r="9.2" fill="#808080"/>
<circle cx="540.4" cy="1125.8" r="9.2" fill="#808080"/>
<circle cx="568.4" cy="1132.4" r="9.2" fill="#808080"/>
<circle cx="554.4" cy="1153.3" r="9.2" fill="#808080"/>
<line x1="528.15" y1="1089.60" x2="581.65" y2="1089.60" stroke="#000" stroke-width="3.7" stroke-linecap="round"/>
<circle cx="622.4" cy="1005.5" r="9.2" fill="#000"/>
<circle cx="650.5" cy="1000.4" r="9.2" fill="#000"/>
<circle cx="636.4" cy="1023.8" r="9.2" fill="#000"/>
<circle cx="650.5" cy="1067.4" r="9.2" fill="#000"/>
<circle cx="636.4" cy="1087.6" r="9.2" fill="#000"/>
<line x1="610.03" y1="1036.80" x2="663.53" y2="1036.80" stroke="#000" stroke-width="3.7" stroke-linecap="round"/>
<circle cx="732.0" cy="997.8" r="9.2" fill="#808080"/>
<circle cx="718.0" cy="1013.1" r="9.2" fill="#808080"/>
<circle cx="704.0" cy="1060.3" r="9.2" fill="#808080"/>
<circle cx="718.0" cy="1070.0" r="9.2" fill="#808080"/>
<circle cx="732.0" cy="1095.2" r="9.2" fill="#808080"/>
<circle cx="718.0" cy="1106.2" r="9.2" fill="#808080"/>
<line x1="691.91" y1="1057.20" x2="745.41" y2="1057.20" stroke="#000" stroke-width="3.7" stroke-linecap="round"/>
<circle cx="800.1" cy="1263.5" r="9.2" fill="#000"/>
<circle cx="799.8" cy="1272.6" r="9.2" fill="#000"/>
<circle cx="799.8" cy="1280.7" r="9.2" fill="#000"/>
<circle cx="786.3" cy="1295.2" r="9.2" fill="#000"/>
<circle cx="799.8" cy="1298.8" r="9.2" fill="#000"/>
<circle cx="814.3" cy="1298.3" r="9.2" fill="#000"/>
<circle cx="793.5" cy="1288.0" r="9.2" fill="#000"/>
<circle cx="806.1" cy="1288.0" r="9.2" fill="#000"/>
<circle cx="793.0" cy="1296.5" r="9.2" fill="#000"/>
<circle cx="807.0" cy="1297.0" r="9.2" fill="#000"/>
<line x1="773.79" y1="1283.90" x2="827.29" y2="1283.90" stroke="#000" stroke-width="3.7" stroke-linecap="round"/>
<circle cx="883.4" cy="1269.4" r="9.2" fill="#666666"/>
<circle cx="874.8" cy="1274.4" r="9.2" fill="#666666"/>
<circle cx="889.2" cy="1275.3" r="9.2" fill="#666666"/>
<circle cx="882.3" cy="1281.2" r="9.2" fill="#666666"/>
<circle cx="868.0" cy="1288.8" r="9.2" fill="#666666"/>
<circle cx="881.1" cy="1293.4" r="9.2" fill="#666666"/>
<circle cx="895.6" cy="1292.0" r="9.2" fill="#666666"/>
<circle cx="874.7" cy="1291.5" r="9.2" fill="#666666"/>
<circle cx="889.0" cy="1293.0" r="9.2" fill="#666666"/>
<line x1="855.67" y1="1280.20" x2="909.17" y2="1280.20" stroke="#000" stroke-width="3.7" stroke-linecap="round"/>
<circle cx="949.8" cy="997.0" r="9.0" fill="#000"/>
<circle cx="963.4" cy="997.0" r="9.0" fill="#000"/>
<circle cx="970.4" cy="997.0" r="9.0" fill="#000"/>
<circle cx="978.0" cy="997.0" r="9.0" fill="#000"/>
<line x1="936.95" y1="997.00" x2="990.85" y2="997.00" stroke="#000" stroke-width="3.7" stroke-linecap="round"/>
<circle cx="1031.9" cy="961.3" r="9.0" fill="#666666"/>
<circle cx="1045.6" cy="975.9" r="9.0" fill="#666666"/>
<circle cx="1059.3" cy="1001.1" r="9.0" fill="#666666"/>
<circle cx="1045.6" cy="1016.9" r="9.0" fill="#666666"/>
<line x1="1018.85" y1="988.90" x2="1072.35" y2="988.90" stroke="#000" stroke-width="3.7" stroke-linecap="round"/>
<circle cx="1143.3" cy="945.0" r="9.5" fill="#000"/>
<circle cx="1143.3" cy="986.7" r="9.5" fill="#808080"/>
<text transform="translate(27.94,206.40) scale(0.3294,0.3478)" font-size="100" font-weight="bold" fill="#000">A</text>
<text transform="translate(28.43,798.20) scale(0.3187,0.3435)" font-size="100" font-weight="bold" fill="#000">B</text>
<text transform="translate(23.50,518.26) rotate(-90) scale(0.2817,0.2731)" font-size="100" font-weight="bold" fill="#000">% Proliferation</text>
<text transform="translate(27.70,1220.40) rotate(-90) scale(0.2976,0.2966)" font-size="100" font-weight="bold" fill="#000">% Proliferation</text>
<text transform="translate(515.61,686.60) scale(0.2861,0.2676)" font-size="100" font-weight="bold" fill="#000">Treg : Tresp</text>
<text transform="translate(508.40,1400.90) scale(0.3050,0.2619)" font-size="100" font-weight="bold" fill="#000">Treg : Tresp</text>
<text transform="translate(1192.50,234.80) scale(0.2826,0.2777)" font-size="100" font-weight="normal" fill="#000">WT Treg : WT Tresp</text>
<text transform="translate(1185.07,954.30) scale(0.3037,0.2871)" font-size="100" font-weight="normal" fill="#000">IL-4 KO Treg : IL-4 KO Tresp</text>
<text transform="translate(43.83,258.10) scale(0.2449,0.2657)" font-size="100" font-weight="bold">120</text>
<text transform="translate(43.83,315.18) scale(0.2449,0.2657)" font-size="100" font-weight="bold">100</text>
<text transform="translate(57.45,372.27) scale(0.2449,0.2657)" font-size="100" font-weight="bold">80</text>
<text transform="translate(57.45,429.35) scale(0.2449,0.2657)" font-size="100" font-weight="bold">60</text>
<text transform="translate(57.45,486.43) scale(0.2449,0.2657)" font-size="100" font-weight="bold">40</text>
<text transform="translate(57.45,543.52) scale(0.2449,0.2657)" font-size="100" font-weight="bold">20</text>
<text transform="translate(71.07,600.60) scale(0.2449,0.2657)" font-size="100" font-weight="bold">0</text>
<text transform="translate(46.72,946.10) scale(0.2639,0.2657)" font-size="100" font-weight="bold">120</text>
<text transform="translate(46.72,1006.28) scale(0.2639,0.2657)" font-size="100" font-weight="bold">100</text>
<text transform="translate(61.40,1066.47) scale(0.2639,0.2657)" font-size="100" font-weight="bold">80</text>
<text transform="translate(61.40,1126.65) scale(0.2639,0.2657)" font-size="100" font-weight="bold">60</text>
<text transform="translate(61.40,1186.83) scale(0.2639,0.2657)" font-size="100" font-weight="bold">40</text>
<text transform="translate(61.40,1247.02) scale(0.2639,0.2657)" font-size="100" font-weight="bold">20</text>
<text transform="translate(76.07,1307.20) scale(0.2639,0.2657)" font-size="100" font-weight="bold">0</text>
<text transform="translate(164.31,642.80) scale(0.2725,0.2607)" font-size="100" font-weight="normal">1/2:1</text>
<text transform="translate(376.11,642.80) scale(0.2725,0.2607)" font-size="100" font-weight="normal">1/4:1</text>
<text transform="translate(576.01,642.80) scale(0.2725,0.2607)" font-size="100" font-weight="normal">1/8:1</text>
<text transform="translate(777.33,642.80) scale(0.2725,0.2607)" font-size="100" font-weight="normal">1:0</text>
<text transform="translate(979.41,642.80) scale(0.2725,0.2607)" font-size="100" font-weight="normal">0:1</text>
<text transform="translate(175.95,1351.00) scale(0.2924,0.2759)" font-size="100" font-weight="normal">1:1</text>
<text transform="translate(323.26,1351.00) scale(0.2924,0.2759)" font-size="100" font-weight="normal">1/2:1</text>
<text transform="translate(486.26,1351.00) scale(0.2924,0.2759)" font-size="100" font-weight="normal">1/4:1</text>
<text transform="translate(647.46,1351.00) scale(0.2924,0.2759)" font-size="100" font-weight="normal">1/8:1</text>
<text transform="translate(824.01,1351.00) scale(0.2924,0.2759)" font-size="100" font-weight="normal">1:0</text>
<text transform="translate(986.84,1351.00) scale(0.2924,0.2759)" font-size="100" font-weight="normal">0:1</text>
<text transform="translate(1192.50,316.50) scale(0.2826,0.2777)" font-size="100" font-weight="normal">WT Treg : WT Tresp + isotype</text>
<text transform="translate(1192.50,275.60) scale(0.2826,0.2777)" font-size="100" font-weight="normal">WT Treg : WT Tresp +</text>
<text transform="translate(1502.66,275.60) scale(0.2826,0.2777)" font-size="100" font-weight="normal">IL-4</text>
<text transform="translate(1482.38,275.46) scale(0.3019,0.2386)" font-size="100" style="font-family:'DejaVu Sans','Liberation Sans',sans-serif;font-weight:200;stroke:#000;stroke-width:2.2">α</text>
<text transform="translate(1185.06,996.00) scale(0.3046,0.2871)" font-size="100" font-weight="normal">IL-4 KO Treg : IL-4 KO Tresp +IL-4</text>
<text x="882.95" y="20.82" font-size="25" letter-spacing="1.15">***</text>
<text x="879.55" y="48.08" font-size="25" letter-spacing="1.15">***</text>
<text x="748.15" y="72.17" font-size="25" letter-spacing="1.15">***</text>
<text x="887.99" y="94.47" font-size="25" letter-spacing="1.15">**</text>
<text x="751.25" y="118.33" font-size="25" letter-spacing="1.15">***</text>
<text x="614.25" y="146.07" font-size="25" letter-spacing="1.15">***</text>
<text x="749.65" y="168.03" font-size="25" letter-spacing="1.15">***</text>
<text x="612.75" y="195.12" font-size="25" letter-spacing="1.15">***</text>
<text x="482.45" y="223.12" font-size="25" letter-spacing="1.15">***</text>
<text x="149.29" y="252.07" font-size="25" letter-spacing="1.15">**</text>
<text x="210.79" y="252.07" font-size="25" letter-spacing="1.15">**</text>
<text x="361.02" y="251.47" font-size="25" letter-spacing="1.15">*</text>
<text x="422.62" y="251.47" font-size="25" letter-spacing="1.15">*</text>
<text x="557.73" y="250.97" font-size="25" letter-spacing="1.15">*</text>
<text x="626.33" y="250.97" font-size="25" letter-spacing="1.15">*</text>
<text x="767.60" y="243.80" font-size="28" text-anchor="middle">ns</text>
<text x="822.40" y="243.80" font-size="28" text-anchor="middle">ns</text>
<text x="968.15" y="244.10" font-size="28" text-anchor="middle">ns</text>
<text x="1031.20" y="244.10" font-size="28" text-anchor="middle">ns</text>
<text x="892.18" y="740.40" font-size="26.5" letter-spacing="1.4">**</text>
<text x="886.92" y="771.30" font-size="26.5" letter-spacing="1.4">***</text>
<text x="767.42" y="791.20" font-size="26.5" letter-spacing="1.4">***</text>
<text x="626.02" y="812.90" font-size="26.5" letter-spacing="1.4">***</text>
<text x="777.93" y="863.25" font-size="26.5" letter-spacing="1.4">*</text>
<text x="622.02" y="888.20" font-size="26.5" letter-spacing="1.4">***</text>
<text x="552.42" y="910.10" font-size="26.5" letter-spacing="1.4">***</text>
<text x="510.73" y="937.60" font-size="26.5" letter-spacing="1.4">*</text>
<text x="671.18" y="937.25" font-size="26.5" letter-spacing="1.4">**</text>
<text x="902.80" y="835.00" font-size="30.5" text-anchor="middle">ns</text>
<text x="198.15" y="931.60" font-size="30.5" text-anchor="middle">ns</text>
<text x="351.15" y="931.60" font-size="30.5" text-anchor="middle">ns</text>
<text x="839.90" y="929.90" font-size="30.5" text-anchor="middle">ns</text>
<text x="996.30" y="928.20" font-size="30.5" text-anchor="middle">ns</text>
</svg>
</body></html>
